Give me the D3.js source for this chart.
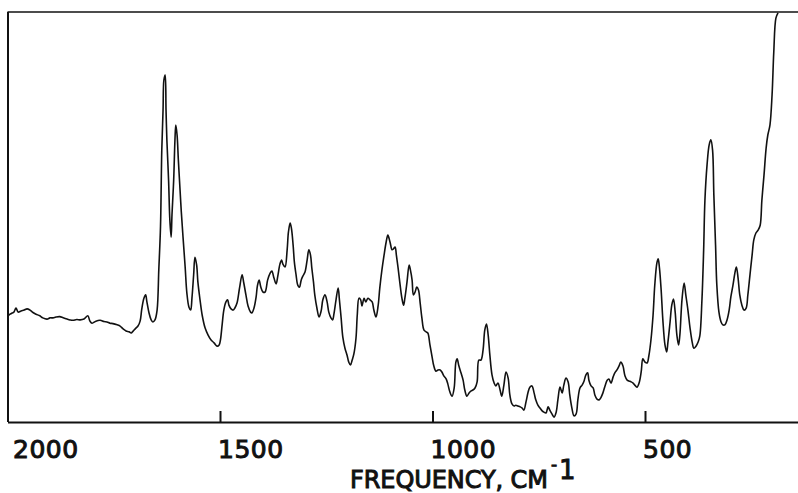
<!DOCTYPE html>
<html>
<head>
<meta charset="utf-8">
<script src="https://cdn.jsdelivr.net/npm/d3@7/dist/d3.min.js"></script>
<style>
  html, body { margin: 0; padding: 0; background: #fff; }
  svg { display: block; }
  text { font-family: "DejaVu Sans", sans-serif; fill: #111; }
</style>
</head>
<body>
<svg id="chart" width="798" height="493"></svg>
<script>
// Raman spectrum: wavenumber (cm-1) and relative intensity (% of full scale)
const frequency = [
  1999,1994,1989,1985,1980,1975,1968,1961,1954,1947,1940,1933,1924,1917,1907,1900,1893,1886,1877,1869,
  1860,1853,1846,1837,1829,1820,1811,1806,1801,1792,1782,1773,1766,1759,1752,1742,1735,1728,1721,1714,
  1709,1705,1698,1693,1688,1684,1679,1675,1672,1667,1662,1658,1653,1648,1644,1640,1637,1634,1632,1629,
  1627,1625,1621,1618,1615,1613,1609,1606,1604,1601,1598,1594,1591,1587,1582,1578,1573,1569,1566,1562,
  1559,1555,1552,1547,1542,1535,1528,1521,1514,1507,1502,1499,1495,1491,1486,1482,1479,1474,1469,1465,
  1460,1454,1448,1444,1439,1434,1428,1425,1420,1415,1412,1408,1404,1399,1394,1388,1382,1378,1373,1368,
  1364,1359,1355,1352,1347,1342,1339,1335,1332,1328,1325,1321,1317,1313,1309,1305,1300,1295,1291,1287,
  1284,1280,1277,1272,1267,1262,1258,1253,1248,1244,1239,1235,1232,1227,1222,1219,1215,1211,1206,1201,
  1197,1193,1189,1185,1180,1177,1173,1169,1166,1161,1157,1152,1147,1142,1138,1133,1128,1124,1119,1114,
  1109,1105,1100,1095,1092,1088,1085,1081,1077,1072,1068,1065,1060,1055,1052,1048,1045,1041,1037,1033,
  1029,1025,1020,1015,1011,1006,1001,997,992,987,982,978,973,968,964,959,954,949,945,942,
  938,933,928,924,919,914,909,905,900,895,891,886,881,877,873,869,865,860,855,851,
  846,841,837,832,827,822,818,813,808,804,799,794,789,785,780,775,771,766,761,757,
  752,747,742,738,733,728,724,719,714,709,705,700,695,691,686,681,677,672,667,662,
  658,653,648,644,639,635,632,627,622,618,613,608,604,599,594,589,585,580,575,571,
  566,561,557,552,547,542,538,533,528,524,519,514,509,505,500,495,491,486,481,477,
  472,469,466,462,458,453,449,446,441,437,433,429,425,421,418,413,408,404,399,394,
  389,385,380,375,371,366,362,359,354,349,345,341,338,334,331,326,321,317,312,307,
  302,298,293,288,285,281,277,272,267,262,258,253,248,244,239,234,229,225,220,215,
  211,206,201,197,192,187
];
const intensity = [
  25.9,26.3,26.6,26.8,27.8,26.8,27.1,27.3,27.6,27.3,26.7,26.3,25.9,25.4,25.1,25.4,25.4,25.6,25.7,25.4,
  25.1,24.9,24.8,25.0,24.9,25.1,25.9,24.6,24.1,24.6,24.8,24.5,24.4,24.1,24.0,23.7,23.4,22.7,22.2,22.0,
  21.7,22.1,22.9,23.4,24.6,27.6,30.2,31.0,29.3,26.6,24.9,24.4,24.9,27.3,37.1,47.6,66.3,76.1,83.4,84.6,
  76.1,68.8,59.0,49.3,45.1,50.5,59.0,68.8,72.4,70.0,63.9,56.6,51.2,45.1,37.8,31.5,28.0,27.3,30.2,35.9,
  40.2,38.3,34.1,29.8,26.1,22.9,21.2,20.0,19.3,18.5,18.8,20.0,23.7,27.3,29.3,29.8,28.5,27.6,27.3,27.8,
  29.0,32.7,35.9,33.9,31.0,28.3,26.8,26.6,27.8,30.5,33.2,34.6,32.9,31.7,31.7,34.6,36.3,36.8,35.1,33.7,
  35.6,38.5,39.5,38.5,37.8,42.0,46.3,48.5,47.3,43.2,39.0,35.9,33.4,32.9,34.6,35.6,36.6,39.5,42.0,40.7,
  37.6,34.1,31.0,27.8,25.6,27.1,29.8,31.0,29.3,26.8,25.4,24.9,26.3,29.8,32.7,29.8,25.4,20.7,18.0,16.3,
  14.6,13.9,15.1,16.6,20.5,26.1,30.2,29.8,28.3,30.2,29.3,30.2,29.8,29.3,27.3,25.6,28.3,32.7,37.1,40.7,
  43.9,45.6,43.9,42.0,42.2,42.7,40.7,37.6,34.1,30.2,28.5,30.2,34.1,38.3,37.1,34.6,31.0,31.7,32.9,32.2,
  29.0,25.4,22.4,22.0,21.7,18.8,15.9,13.7,12.4,12.7,12.7,12.2,11.2,10.5,9.3,7.3,6.3,8.3,14.6,15.4,
  13.7,12.0,10.2,7.8,6.3,7.1,7.6,7.8,8.3,9.8,15.1,15.1,17.6,22.4,23.9,21.2,16.3,11.5,9.5,8.8,
  9.5,7.8,6.3,9.0,12.2,10.7,6.6,4.4,3.9,4.1,3.9,3.7,3.4,2.9,4.9,7.3,8.5,8.8,7.1,5.4,
  4.1,3.4,2.7,2.4,2.2,3.7,2.9,2.0,1.2,2.4,5.4,8.5,7.1,9.0,10.7,9.8,6.6,3.4,1.5,2.0,
  5.4,8.3,9.0,9.8,11.5,12.0,10.2,8.8,8.3,6.6,5.6,5.4,5.9,7.1,8.8,10.2,10.5,9.5,11.0,12.0,
  12.7,13.7,14.6,13.7,11.2,10.2,10.0,9.8,9.5,9.0,8.5,9.5,12.2,15.4,14.6,14.4,16.1,20.0,26.1,33.4,
  38.8,39.8,37.6,32.2,24.9,18.8,17.1,19.5,24.4,28.5,30.0,26.8,21.2,18.8,21.2,29.8,33.9,31.0,27.3,22.9,
  19.5,18.0,18.5,19.5,21.0,29.8,42.0,54.1,62.7,67.6,68.8,66.3,55.4,43.2,33.4,26.8,24.4,23.7,23.7,24.9,
  27.3,30.5,33.4,36.6,37.8,35.1,31.0,28.5,27.3,27.8,31.0,35.9,40.7,44.4,46.1,46.8,48.0,54.1,60.2,66.8,
  70.0,72.4,79.8,90.2,98.5,99.8
];

// Axis ticks and their printed labels
const tickValues = [1500, 1000, 500];
const tickLabels = ["2000", "1500", "1000", "500"];
const labelValues = [2000, 1500, 1000, 500];
const axisTitle = "FREQUENCY, CM";
const axisTitleExp = "1";

const svg = d3.select("#chart");
const x = d3.scaleLinear().domain([2000, 140]).range([7.5, 798]);
const y = d3.scaleLinear().domain([0, 100]).range([422, 12]);

const data = frequency.map((f, i) => ({ f, v: intensity[i] }));

// Chart frame: left edge and top edge
svg.append("line")
  .attr("x1", x(2000) + 0.5).attr("x2", x(2000) + 0.5)
  .attr("y1", y(100)).attr("y2", y(0))
  .attr("stroke", "#111").attr("stroke-width", 2);
svg.append("line")
  .attr("x1", x(2000)).attr("x2", 798)
  .attr("y1", y(100)).attr("y2", y(100))
  .attr("stroke", "#111").attr("stroke-width", 1.6);

// Bottom axis with inward ticks
const axis = d3.axisBottom(x)
  .tickValues(tickValues)
  .tickSizeInner(-11)
  .tickSizeOuter(0)
  .tickFormat("");
const gAxis = svg.append("g")
  .attr("transform", `translate(0,${y(0)})`)
  .call(axis);
gAxis.select(".domain").attr("stroke", "#111").attr("stroke-width", 2);
gAxis.selectAll(".tick line").attr("stroke", "#111").attr("stroke-width", 2);

// Tick labels, set to the right of each tick
svg.append("g").selectAll("text")
  .data(labelValues)
  .join("text")
  .attr("x", d => Math.max(13, x(d) - 2))
  .attr("y", 458)
  .attr("font-size", 25)
  .attr("stroke", "#111")
  .attr("stroke-width", 1)
  .attr("letter-spacing", 0.5)
  .text((d, i) => tickLabels[i]);

// Axis title with superscript exponent
svg.append("text")
  .attr("x", 350).attr("y", 488)
  .attr("font-size", 24)
  .attr("stroke", "#111").attr("stroke-width", 1)
  .attr("textLength", 198)
  .attr("lengthAdjust", "spacing")
  .text(axisTitle);
svg.append("text")
  .attr("x", 551).attr("y", 470)
  .attr("font-size", 17)
  .attr("stroke", "#111").attr("stroke-width", 0.9)
  .text("-");
svg.append("text")
  .attr("x", 559).attr("y", 479)
  .attr("font-size", 26)
  .attr("font-family", "Liberation Sans, sans-serif")
  .attr("stroke", "#111").attr("stroke-width", 0.9)
  .text(axisTitleExp);

// Spectrum trace
const line = d3.line()
  .x(d => x(d.f))
  .y(d => y(d.v))
  .curve(d3.curveCatmullRom.alpha(0.5));
svg.append("path")
  .datum(data)
  .attr("fill", "none")
  .attr("stroke", "#111")
  .attr("stroke-width", 1.6)
  .attr("stroke-linejoin", "round")
  .attr("d", line);
</script>
</body>
</html>
